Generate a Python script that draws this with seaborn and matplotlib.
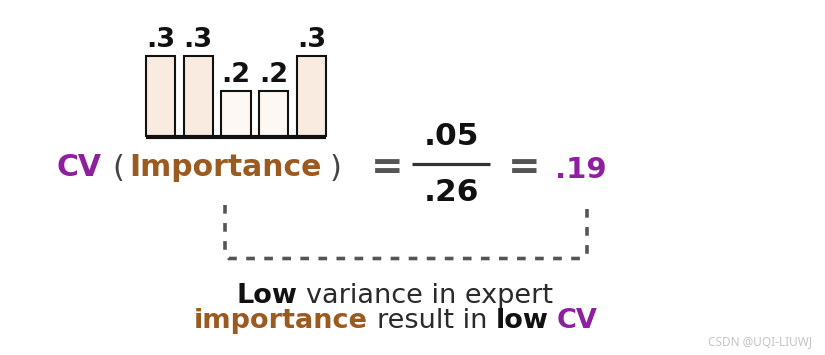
import matplotlib
matplotlib.use("Agg")
import matplotlib.pyplot as plt
import seaborn as sns
import pandas as pd
from matplotlib.lines import Line2D

# ---------------- data ----------------
experts = ["E1", "E2", "E3", "E4", "E5"]
importance = [0.3, 0.3, 0.2, 0.2, 0.3]
bar_labels = [".3", ".3", ".2", ".2", ".3"]
std_value = 0.05
mean_value = 0.26
cv_value = 0.19

def fmt(v):
    return f"{v:.2f}".lstrip("0")

# ---------------- style ----------------
sns.set_theme(style="white")
plt.rcParams["font.family"] = ["DejaVu Sans"]

PURPLE = "#8e1f9e"
BROWN = "#9a5a20"
GRAY = "#555555"
DARK = "#2a2a2a"
FILL_HI = "#f9ebdf"
FILL_LO = "#fdf8f3"

W, H = 825, 355
fig = plt.figure(figsize=(W / 100, H / 100), dpi=100)
fig.patch.set_facecolor("white")

# overlay axes in pixel coordinates for annotations
ov = fig.add_axes([0, 0, 1, 1])
ov.set_xlim(0, W)
ov.set_ylim(H, 0)
ov.axis("off")
ov.set_facecolor("none")

# ---------------- bars ----------------
base_val = 0.0714
px_per_unit = 350.0
base_px = 136.5
top_px = 20.0
spacing = 37.75
left_px = 160.5 - 0.5 * spacing
ax = fig.add_axes([left_px / W, (H - base_px) / H, 5 * spacing / W, (base_px - top_px) / H])
df = pd.DataFrame({"expert": experts, "importance": importance})
colors = [FILL_HI if v >= 0.25 else FILL_LO for v in importance]
sns.barplot(data=df, x="expert", y="importance", hue="expert", palette=colors,
            legend=False, ax=ax, width=0.77, edgecolor="#111111", linewidth=1.5,
            saturation=1)
ax.set_ylim(base_val, base_val + (base_px - top_px) / px_per_unit)
ax.set_xlim(-0.5, 4.5)
ax.axis("off")
ax.patch.set_alpha(0)
ax.axhline(base_val, xmin=0.023, xmax=0.977, color="#111111", lw=3,
           solid_capstyle="butt", clip_on=False)
for p, lab in zip(ax.patches, bar_labels):
    ax.annotate(lab, (p.get_x() + p.get_width() / 2, p.get_height()),
                xytext=(0, 2.5), textcoords="offset points", ha="center", va="bottom",
                fontsize=19.5, fontweight="bold", color="#111111")

# ---------------- equation ----------------
eq_base = 176
ov.text(56, eq_base, "CV", fontsize=21.5, fontweight="bold", color=PURPLE, ha="left", va="baseline")
ov.text(118.5, eq_base + 1, "(", fontsize=22, color="#444444", ha="center", va="baseline")
ov.text(225, eq_base, "Importance", fontsize=21.5, fontweight="bold", color=BROWN, ha="center", va="baseline")
ov.text(335, eq_base + 1, ")", fontsize=22, color="#444444", ha="center", va="baseline")
ov.text(387, 179, "=", fontsize=28, fontweight="bold", color=GRAY, ha="center", va="baseline")
ov.text(451, 145, fmt(std_value), fontsize=22.5, fontweight="bold", color="#111111", ha="center", va="baseline")
ov.add_line(Line2D([412, 490], [163.5, 163.5], color="#333333", lw=2.3, solid_capstyle="butt"))
ov.text(451, 201, fmt(mean_value), fontsize=22.5, fontweight="bold", color="#111111", ha="center", va="baseline")
ov.text(524, 179, "=", fontsize=28, fontweight="bold", color=GRAY, ha="center", va="baseline")
ov.text(581, 178, fmt(cv_value), fontsize=21, fontweight="bold", color=PURPLE, ha="center", va="baseline")

# ---------------- dashed bracket ----------------
bx = [225, 225, 229, 583, 587, 587]
by = [205, 254, 258.5, 258.5, 254, 205]
ov.add_line(Line2D(bx, by, color=GRAY, lw=2.6, linestyle=(0, (2.4, 2.6)),
                   dash_capstyle="butt", solid_joinstyle="round"))

# ---------------- rich caption ----------------
renderer = fig.canvas.get_renderer()

def text_width(s, **kw):
    t = ov.text(0, 0, s, **kw)
    bb = t.get_window_extent(renderer)
    t.remove()
    return bb.width

def rich_line(pieces, xc, y, size):
    sp = text_width("x x", fontsize=size) - text_width("xx", fontsize=size)
    widths = [text_width(s, fontsize=size, fontweight=w) for s, w, c in pieces]
    total = sum(widths) + sp * (len(pieces) - 1)
    x = xc - total / 2
    for (s, w, c), wd in zip(pieces, widths):
        ov.text(x, y, s, fontsize=size, fontweight=w, color=c, ha="left", va="baseline")
        x += wd + sp

cap_size = 19.5
rich_line([("Low", "bold", "#111111"), ("variance in expert", "normal", DARK)], 395, 303, cap_size)
rich_line([("importance", "bold", BROWN), ("result in", "normal", DARK),
           ("low", "bold", "#111111"), ("CV", "bold", PURPLE)], 396, 328, cap_size)

# watermark
ov.text(812, 345, "CSDN @UQI-LIUWJ", fontsize=8.5, color="#c4c4c4", ha="right", va="baseline",
        family=["Noto Sans", "DejaVu Sans"])

fig.savefig("out.png", dpi=100, facecolor="white")
